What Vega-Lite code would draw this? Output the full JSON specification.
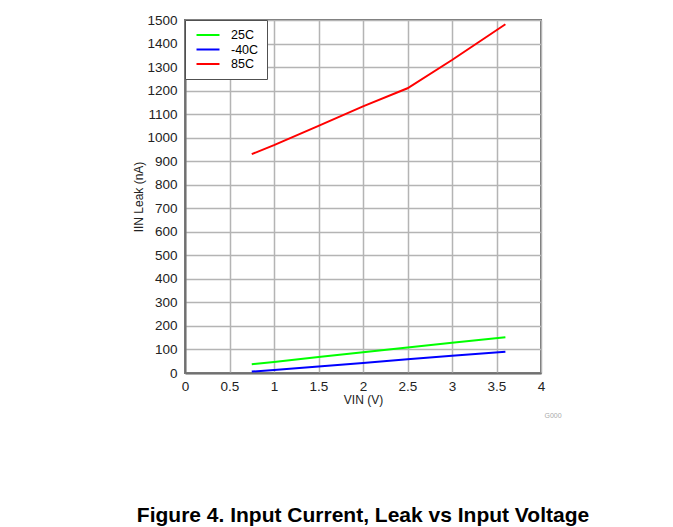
{
  "$schema": "https://vega.github.io/schema/vega-lite/v6.json",
  "width": 356,
  "height": 353,
  "autosize": {"type": "none"},
  "padding": {"left": 185, "top": 20, "right": 132, "bottom": 154},
  "background": "white",
  "title": {
    "text": "Figure 4. Input Current, Leak vs Input Voltage",
    "orient": "bottom",
    "anchor": "middle",
    "font": "Liberation Sans",
    "fontSize": 21,
    "fontWeight": "bold",
    "color": "black",
    "offset": 86
  },
  "config": {
    "font": "Liberation Sans",
    "view": {"stroke": "#707070", "strokeWidth": 2},
    "axis": {
      "gridColor": "#b4b4b4",
      "gridWidth": 1.5,
      "gridOpacity": 1,
      "domainColor": "#707070",
      "domainWidth": 2,
      "ticks": false,
      "labelOverlap": false,
      "labelFont": "Liberation Sans",
      "labelFontSize": 13.5,
      "labelColor": "#222222",
      "titleFont": "Liberation Sans",
      "titleFontSize": 12,
      "titleFontWeight": "normal",
      "titleColor": "#222222"
    }
  },
  "layer": [
    {
      "data": {
        "values": [
          {"vin": 0.75, "leak": 37, "temp": "25C"},
          {"vin": 1.0, "leak": 47, "temp": "25C"},
          {"vin": 1.5, "leak": 68, "temp": "25C"},
          {"vin": 2.0, "leak": 88, "temp": "25C"},
          {"vin": 2.5, "leak": 108, "temp": "25C"},
          {"vin": 3.0, "leak": 129, "temp": "25C"},
          {"vin": 3.6, "leak": 152, "temp": "25C"},
          {"vin": 0.75, "leak": 6, "temp": "-40C"},
          {"vin": 1.0, "leak": 13, "temp": "-40C"},
          {"vin": 1.5, "leak": 28, "temp": "-40C"},
          {"vin": 2.0, "leak": 43, "temp": "-40C"},
          {"vin": 2.5, "leak": 58, "temp": "-40C"},
          {"vin": 3.0, "leak": 73, "temp": "-40C"},
          {"vin": 3.6, "leak": 90, "temp": "-40C"},
          {"vin": 0.75, "leak": 930, "temp": "85C"},
          {"vin": 1.0, "leak": 968, "temp": "85C"},
          {"vin": 1.5, "leak": 1050, "temp": "85C"},
          {"vin": 2.0, "leak": 1133, "temp": "85C"},
          {"vin": 2.5, "leak": 1210, "temp": "85C"},
          {"vin": 3.0, "leak": 1330, "temp": "85C"},
          {"vin": 3.6, "leak": 1482, "temp": "85C"}
        ]
      },
      "mark": {"type": "line", "strokeWidth": 2},
      "encoding": {
        "x": {
          "field": "vin",
          "type": "quantitative",
          "scale": {"domain": [0, 4], "nice": false, "zero": false},
          "axis": {
            "title": "VIN (V)",
            "values": [0, 0.5, 1, 1.5, 2, 2.5, 3, 3.5, 4],
            "format": "~g",
            "labelOverlap": false,
            "labelPadding": 6,
            "titlePadding": 2,
            "labelFlush": false
          }
        },
        "y": {
          "field": "leak",
          "type": "quantitative",
          "scale": {"domain": [0, 1500], "nice": false},
          "axis": {
            "title": "IIN Leak (nA)",
            "values": [0, 100, 200, 300, 400, 500, 600, 700, 800, 900, 1000, 1100, 1200, 1300, 1400, 1500],
            "format": "d",
            "labelOverlap": false,
            "labelPadding": 8,
            "titlePadding": 1
          }
        },
        "color": {
          "field": "temp",
          "type": "nominal",
          "scale": {"domain": ["25C", "-40C", "85C"], "range": ["#00ff00", "#0000ff", "#ff0000"]},
          "legend": {
            "title": null,
            "orient": "top-left",
            "offset": 0,
            "fillColor": "white",
            "strokeColor": "#505050",
            "padding": 8,
            "symbolType": "M-2,0L2,0",
            "symbolSize": 132,
            "symbolStrokeWidth": 2,
            "symbolOffset": 8,
            "labelFont": "Liberation Sans",
            "labelFontSize": 12.5,
            "labelColor": "black",
            "labelOffset": 16,
            "rowPadding": 0.5
          }
        }
      }
    },
    {
      "data": {"values": [{}]},
      "mark": {"type": "text", "fontSize": 7, "color": "#aaaaaa", "align": "center", "baseline": "middle"},
      "encoding": {
        "x": {
          "datum": 4.135,
          "type": "quantitative",
          "scale": {"domain": [0, 4], "nice": false, "zero": false},
          "axis": {
            "title": "VIN (V)",
            "values": [0, 0.5, 1, 1.5, 2, 2.5, 3, 3.5, 4],
            "format": "~g",
            "labelOverlap": false,
            "labelPadding": 6,
            "titlePadding": 2,
            "labelFlush": false
          }
        },
        "y": {
          "datum": -183,
          "type": "quantitative",
          "scale": {"domain": [0, 1500], "nice": false},
          "axis": {
            "title": "IIN Leak (nA)",
            "values": [0, 100, 200, 300, 400, 500, 600, 700, 800, 900, 1000, 1100, 1200, 1300, 1400, 1500],
            "format": "d",
            "labelOverlap": false,
            "labelPadding": 8,
            "titlePadding": 1
          }
        },
        "text": {"value": "G000"}
      }
    }
  ]
}
